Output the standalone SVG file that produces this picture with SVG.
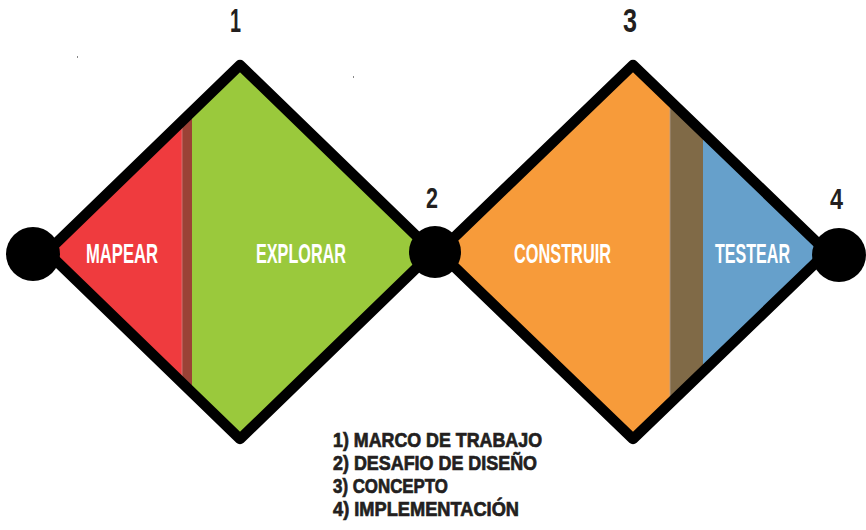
<svg xmlns="http://www.w3.org/2000/svg" width="866" height="530" viewBox="0 0 866 530">
<style>
.lbl{font-family:"Liberation Sans",Arial,sans-serif;font-weight:bold;fill:#ffffff;font-size:28px}
.num{font-family:"Liberation Sans",Arial,sans-serif;font-weight:bold;fill:#231f20}
.leg{font-family:"Liberation Sans",Arial,sans-serif;font-weight:bold;fill:#231f20;stroke:#231f20;stroke-width:0.7;font-size:20px}
.edge{fill:none;stroke:#000;stroke-width:10.5;stroke-linejoin:round}
</style>
<defs>
<clipPath id="c1"><polygon points="47,252 240,65 433,252 240,439"/></clipPath>
<clipPath id="c2"><polygon points="439,252 633,65 827,252 633,439"/></clipPath>
</defs>
<rect width="866" height="530" fill="#fff"/>
<g id="diamond1">
<g clip-path="url(#c1)">
<rect x="40" y="60" width="142" height="390" fill="#ef3b3e"/>
<rect x="182" y="60" width="10" height="390" fill="#9b4236"/>
<rect x="192" y="60" width="250" height="390" fill="#9ac93c"/>
<line x1="182" y1="60" x2="182" y2="450" stroke="#d98080" stroke-width="0.8"/>
</g>
<polygon class="edge" points="47,252 240,65 433,252 240,439"/>
<text class="lbl" x="86" y="263" textLength="72" lengthAdjust="spacingAndGlyphs">MAPEAR</text>
<text class="lbl" x="256" y="263" textLength="90" lengthAdjust="spacingAndGlyphs">EXPLORAR</text>
</g>
<g id="diamond2">
<g clip-path="url(#c2)">
<rect x="430" y="60" width="240" height="390" fill="#f79b3a"/>
<rect x="670" y="60" width="33" height="390" fill="#806a47"/>
<rect x="703" y="60" width="130" height="390" fill="#66a0cb"/>
<line x1="670" y1="60" x2="670" y2="450" stroke="#b0a090" stroke-width="0.8"/>
</g>
<polygon class="edge" points="439,252 633,65 827,252 633,439"/>
<text class="lbl" x="514" y="263" textLength="97" lengthAdjust="spacingAndGlyphs">CONSTRUIR</text>
<text class="lbl" x="715" y="263" textLength="75" lengthAdjust="spacingAndGlyphs">TESTEAR</text>
</g>
<g id="node-start"><circle cx="33" cy="254" r="27" fill="#000"/></g>
<g id="node-2"><circle cx="435" cy="252" r="26" fill="#000"/><text class="num" x="426" y="208" font-size="29" textLength="12" lengthAdjust="spacingAndGlyphs">2</text></g>
<g id="node-4"><circle cx="839" cy="255" r="27" fill="#000"/><text class="num" x="830" y="209" font-size="29" textLength="13" lengthAdjust="spacingAndGlyphs">4</text></g>
<g id="num-1"><text class="num" x="230" y="32" font-size="33" textLength="11" lengthAdjust="spacingAndGlyphs">1</text></g>
<g id="num-3"><text class="num" x="623" y="32" font-size="33" textLength="14" lengthAdjust="spacingAndGlyphs">3</text></g>
<g id="legend">
<text class="leg" x="333" y="447" textLength="209" lengthAdjust="spacingAndGlyphs">1) MARCO DE TRABAJO</text>
<text class="leg" x="333" y="470" textLength="204" lengthAdjust="spacingAndGlyphs">2) DESAFIO DE DISEÑO</text>
<text class="leg" x="333" y="493" textLength="115" lengthAdjust="spacingAndGlyphs">3) CONCEPTO</text>
<text class="leg" x="333" y="516" textLength="186" lengthAdjust="spacingAndGlyphs">4) IMPLEMENTACIÓN</text>
</g>
<rect x="77" y="56" width="1" height="2" fill="#888"/>
<rect x="353" y="76" width="1" height="2" fill="#888"/>
</svg>
